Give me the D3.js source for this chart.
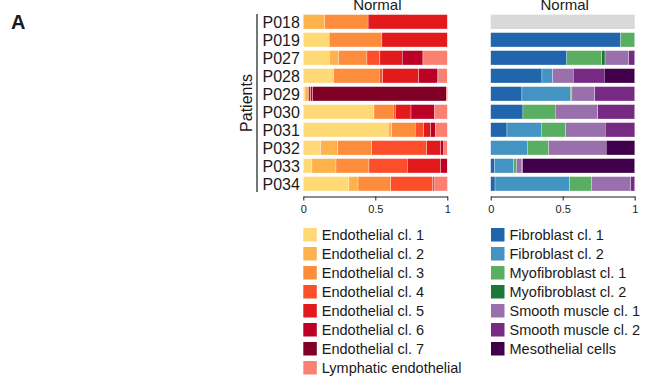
<!DOCTYPE html>
<html>
<head>
<meta charset="utf-8">
<script src="https://cdn.jsdelivr.net/npm/d3@7"></script>
<style>
  body { margin: 0; background: #fff; }
  text { font-family: "Liberation Sans", Arial, sans-serif; fill: #1a1a1a; }
  .axis path, .axis line { stroke: #1a1a1a; }
</style>
</head>
<body>
<div id="chart"></div>
<script>
// patients (rows)
const patients = ["P018", "P019", "P027", "P028", "P029", "P030", "P031", "P032", "P033", "P034"];

// endothelial cell types (left panel)
const endoTypes = ["Endothelial cl. 1", "Endothelial cl. 2", "Endothelial cl. 3", "Endothelial cl. 4",
    "Endothelial cl. 5", "Endothelial cl. 6", "Endothelial cl. 7", "Lymphatic endothelial"];
const endoCl1 = [0, 0.18, 0.18, 0.20, 0.012, 0.491, 0.59, 0.12, 0.06, 0.317];
const endoCl2 = [0.15, 0, 0.065, 0.012, 0.016, 0, 0.023, 0.118, 0.167, 0.063];
const endoCl3 = [0.30, 0.366, 0.197, 0.315, 0, 0.134, 0.164, 0.238, 0.229, 0.227];
const endoCl4 = [0, 0, 0.09, 0.025, 0.01, 0.014, 0.058, 0.382, 0.266, 0.292];
const endoCl5 = [0.55, 0.454, 0.155, 0.25, 0.014, 0.109, 0.049, 0.095, 0.231, 0.009];
const endoCl6 = [0, 0, 0.144, 0.13, 0.014, 0.164, 0.035, 0.023, 0.046, 0];
const endoCl7 = [0, 0, 0, 0.009, 0.926, 0, 0, 0, 0, 0];
const lymphatic = [0, 0, 0.169, 0.058, 0.009, 0.088, 0.081, 0.023, 0, 0.093];

// mesenchymal cell types (right panel), P018 has no cells
const mesTypes = ["Fibroblast cl. 1", "Fibroblast cl. 2", "Myofibroblast cl. 1", "Myofibroblast cl. 2",
    "Smooth muscle cl. 1", "Smooth muscle cl. 2", "Mesothelial cells"];
const fibroCl1 = [0, 0.903, 0.529, 0.356, 0.217, 0.224, 0.113, 0, 0.028, 0.03];
const fibroCl2 = [0, 0, 0, 0.074, 0.335, 0, 0.238, 0.254, 0.129, 0.517];
const myoCl1 = [0, 0.097, 0.242, 0, 0.012, 0.224, 0.169, 0.148, 0.021, 0.152];
const myoCl2 = [0, 0, 0.023, 0, 0, 0, 0, 0, 0, 0];
const smoothCl1 = [0, 0, 0.164, 0.143, 0.159, 0.296, 0.275, 0.40, 0.039, 0.273];
const smoothCl2 = [0, 0, 0.042, 0.215, 0.277, 0.256, 0.206, 0, 0.005, 0.028];
const mesothelial = [0, 0, 0, 0.212, 0, 0, 0, 0.199, 0.778, 0];

const xTicks = [0, 0.5, 1];

const endoColors = ["#fed976", "#feb24c", "#fd8d3c", "#fc4e2a", "#e31a1c", "#bd0026", "#800026", "#fb8072"];
const mesColors = ["#2166ac", "#4393c3", "#5aae61", "#1b7837", "#9970ab", "#762a83", "#40004b"];

const width = 648;
const height = 376;

const svg = d3.select("#chart")
    .append("svg")
    .attr("width", width)
    .attr("height", height);

const y = d3.scaleBand()
    .domain(patients)
    .range([12.8, 192.8])
    .paddingInner(0.2)
    .paddingOuter(0.1);

function buildRows(types, series) {
    return patients.map((p, i) => {
        const row = { patient: p };
        types.forEach((t, j) => { row[t] = series[j][i]; });
        return row;
    });
}

function drawPanel(x0, types, series, colors) {
    const x = d3.scaleLinear().domain([0, 1]).range([x0, x0 + 144]);
    const color = d3.scaleOrdinal().domain(types).range(colors);
    const rows = buildRows(types, series);
    const stacked = d3.stack().keys(types)(rows);

    const g = svg.append("g");

    // rows without any cells are shown in grey
    g.selectAll("rect.empty")
        .data(rows.filter(r => d3.sum(types, t => r[t]) === 0))
        .enter().append("rect")
        .attr("class", "empty")
        .attr("x", x(0))
        .attr("y", d => y(d.patient))
        .attr("width", x(1) - x(0))
        .attr("height", y.bandwidth())
        .attr("fill", "#d9d9d9");

    g.selectAll("g.layer")
        .data(stacked)
        .enter().append("g")
        .attr("class", "layer")
        .attr("fill", d => color(d.key))
        .selectAll("rect")
        .data(d => d.filter(s => s[1] - s[0] > 0))
        .enter().append("rect")
        .attr("x", d => x(d[0]))
        .attr("y", d => y(d.data.patient))
        .attr("width", d => x(d[1]) - x(d[0]))
        .attr("height", y.bandwidth())
        .attr("stroke", "#fff")
        .attr("stroke-width", 0.3);

    svg.append("g")
        .attr("class", "axis")
        .attr("transform", "translate(0,196.5)")
        .call(d3.axisBottom(x).tickValues(xTicks).tickSize(4).tickSizeOuter(0)
            .tickFormat(d3.format("")))
        .call(a => a.selectAll("text").style("font-size", "11px").attr("dy", "0.9em"));

    svg.append("text")
        .attr("x", x(0.5) + 2)
        .attr("y", 9.5)
        .attr("text-anchor", "middle")
        .style("font-size", "15px")
        .text("Normal");

    return { x, color };
}

drawPanel(303.3, endoTypes, [endoCl1, endoCl2, endoCl3, endoCl4, endoCl5, endoCl6, endoCl7, lymphatic], endoColors);
drawPanel(490.7, mesTypes, [fibroCl1, fibroCl2, myoCl1, myoCl2, smoothCl1, smoothCl2, mesothelial], mesColors);

// patient axis
svg.append("line")
    .attr("x1", 257).attr("x2", 257)
    .attr("y1", 14).attr("y2", 192)
    .attr("stroke", "#1a1a1a")
    .attr("stroke-width", 1.2);

svg.selectAll("text.patient")
    .data(patients)
    .enter().append("text")
    .attr("class", "patient")
    .attr("x", 262.5)
    .attr("y", d => y(d) + y.bandwidth() / 2)
    .attr("dy", "0.36em")
    .style("font-size", "16px")
    .text(d => d);

svg.append("text")
    .attr("transform", "translate(251.5,103) rotate(-90)")
    .attr("text-anchor", "middle")
    .style("font-size", "16px")
    .text("Patients");

svg.append("text")
    .attr("x", 11)
    .attr("y", 29)
    .style("font-size", "20px")
    .style("font-weight", "bold")
    .text("A");

// legends
function drawLegend(x0, types, colors) {
    const ly = d3.scaleBand().domain(types).range([228, 228 + 19 * types.length]).paddingInner(0);
    const lg = svg.append("g");
    const item = lg.selectAll("g")
        .data(types)
        .enter().append("g")
        .attr("transform", d => "translate(" + x0 + "," + ly(d) + ")");
    item.append("rect")
        .attr("width", 13.5)
        .attr("height", 13.5)
        .attr("fill", (d, i) => colors[i]);
    item.append("text")
        .attr("x", 18.5)
        .attr("y", 6.8)
        .attr("dy", "0.36em")
        .style("font-size", "14.5px")
        .text(d => d);
}

drawLegend(303.3, endoTypes, endoColors);
drawLegend(491, mesTypes, mesColors);
</script>
</body>
</html>
